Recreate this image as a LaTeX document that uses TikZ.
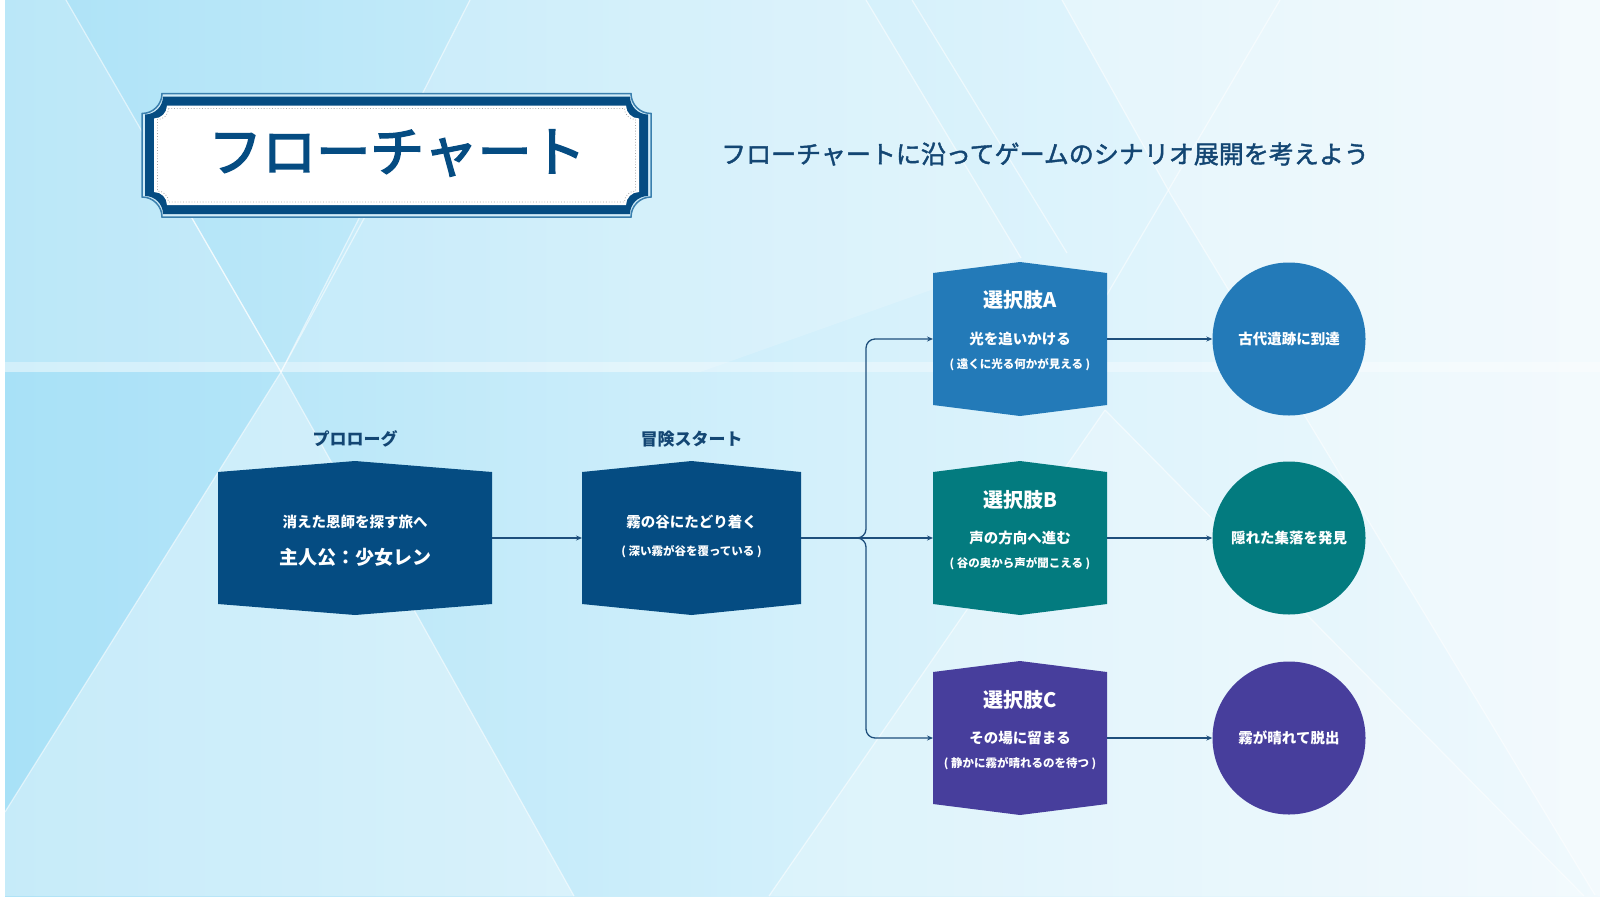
\documentclass[tikz,border=0pt]{standalone}
\usepackage{fontspec}
\setmainfont{Noto Sans CJK JP}
\newfontfamily\jpmed[FakeBold=3]{Noto Sans CJK JP}
\newfontfamily\jpsub[FakeBold=1.6]{Noto Sans CJK JP}
\usetikzlibrary{arrows.meta}
\definecolor{navy}{HTML}{054C82}
\definecolor{colA}{HTML}{237AB8}
\definecolor{colB}{HTML}{037B7F}
\definecolor{colC}{HTML}{473E9C}
\definecolor{txtnavy}{HTML}{134673}
\definecolor{linenavy}{HTML}{1E4F7C}
\definecolor{framemid}{HTML}{3A7FAE}
\definecolor{framelight}{HTML}{D2ECF8}
\definecolor{bgL}{HTML}{ACE2F7}
\definecolor{bgM}{HTML}{D3F0FB}
\definecolor{bgR}{HTML}{F0F9FD}
\newcommand\notchpath[5]{(#1+#5,#2) -- (#3-#5,#2) arc[start angle=180,end angle=90,radius=#5] -- (#3,#4-#5) arc[start angle=270,end angle=180,radius=#5] -- (#1+#5,#4) arc[start angle=0,end angle=-90,radius=#5] -- (#1,#2+#5) arc[start angle=90,end angle=0,radius=#5] -- cycle}
\newcommand\hexbox[6]{%
  \node[minimum width=#4pt, minimum height=#5pt, inner sep=0pt, outer sep=0pt] (#1) at (#2,#3) {};
  \fill[#6] (#1.north west) -- ([yshift=11pt]#1.north) -- (#1.north east) -- (#1.south east) -- ([yshift=-11pt]#1.south) -- (#1.south west) -- cycle;
}
\begin{document}
\begin{tikzpicture}[x=1pt,y=-1pt,
  bgline/.style={white, opacity=0.55, line width=1.2pt},
  conn/.style={draw=linenavy, line width=1.3pt, -{Stealth[length=6pt,width=5pt]}},
  lbl/.style={text=txtnavy, font=\bfseries\fontsize{17}{20}\selectfont, inner sep=0pt},
  wtxt/.style={text=white, font=\bfseries\fontsize{14.5}{17}\selectfont, inner sep=0pt},
  wsmall/.style={text=white, font=\bfseries\fontsize{11.5}{14}\selectfont, inner sep=0pt},
  wtitle/.style={text=white, font=\bfseries\fontsize{20}{24}\selectfont, inner sep=0pt},
  endc/.style={circle, minimum size=153pt, inner sep=0pt, text=white, font=\bfseries\fontsize{14.5}{17}\selectfont}]
\useasboundingbox (0,0) rectangle (1600,900);
% ---------- background ----------
\fill[white] (0,0) rectangle (1600,900);
\shade[left color=bgL, right color=bgR, middle color=bgM] (5,0) rectangle (1600,896);
\fill[white, opacity=0.18] (5,0) -- (66,0) -- (281,372) -- (5,372) -- cycle;
\fill[cyan!40, opacity=0.18] (5,372) -- (281,372) -- (5,812) -- cycle;
\fill[white, opacity=0.32] (5,812) -- (281,372) -- (574,896) -- (5,896) -- cycle;
\fill[white, opacity=0.18] (281,372) -- (470,0) -- (866,0) -- (1021,258) -- (700,372) -- cycle;
\fill[white, opacity=0.22] (1105,410) -- (769,896) -- (1584,896) -- cycle;
\fill[white, opacity=0.25] (1062,0) -- (1600,0) -- (1600,896) -- (1595,895) -- (1171,195) -- cycle;
\fill[white, opacity=0.35] (5,362) rectangle (1600,372);
\draw[bgline] (66,0) -- (281,372);
\draw[bgline] (189,213) -- (281,372);
\draw[bgline] (470,0) -- (281,372);
\draw[bgline] (367,213) -- (281,372);
\draw[bgline] (281,372) -- (5,812);
\draw[bgline] (281,372) -- (574,896);
\draw[bgline] (866,0) -- (1021,258);
\draw[bgline] (912,0) -- (1067,253);
\draw[bgline] (1062,0) -- (1171,195) -- (1595,895);
\draw[bgline] (1280,0) -- (1105,298);
\draw[bgline] (1105,410) -- (769,896);
\draw[bgline] (1105,410) -- (1584,896);
% ---------- title frame ----------
\filldraw[fill=framelight, draw=framemid, line width=1.5pt] \notchpath{142}{93.5}{651}{217}{20};
\fill[navy] \notchpath{145}{96.5}{648}{214}{18};
\fill[white] \notchpath{154}{105.5}{639}{205}{13};
\draw[gray!70, dotted, line width=0.8pt] \notchpath{157.5}{108.5}{635.5}{202}{11};
\node[text=navy, font=\jpmed\fontsize{54}{60}\selectfont, inner sep=0pt] (title) at (397,153) {フローチャート};
\node[text=txtnavy, font=\jpsub\fontsize{25}{29}\selectfont, inner sep=0pt] (subtitle) at (1045,154) {フローチャートに沿ってゲームのシナリオ展開を考えよう};
% ---------- boxes ----------
\hexbox{p}{355}{538}{274}{132}{navy}
\hexbox{s}{691.5}{538}{219}{132}{navy}
\hexbox{A}{1020}{339}{174}{132}{colA}
\hexbox{B}{1020}{538}{174}{132}{colB}
\hexbox{C}{1020}{738}{174}{132}{colC}
\node[lbl] (plbl) at (355,439) {プロローグ};
\node[lbl] (slbl) at (691.5,439) {冒険スタート};
\node[wtxt] (p1) at ([yshift=16pt]p.center) {消えた恩師を探す旅へ};
\node[text=white, font=\bfseries\fontsize{19}{22}\selectfont, inner sep=0pt] (p2) at ([yshift=-19pt]p.center) {主人公：少女レン};
\node[wtxt] (s1) at ([yshift=16pt]s.center) {霧の谷にたどり着く};
\node[wsmall] (s2) at ([yshift=-14pt]s.center) {( 深い霧が谷を覆っている )};
\node[wtitle] (At) at ([yshift=39pt]A.center) {選択肢A};
\node[wtxt] (A1) at (A.center) {光を追いかける};
\node[wsmall] (A2) at ([yshift=-26pt]A.center) {( 遠くに光る何かが見える )};
\node[wtitle] (Bt) at ([yshift=38pt]B.center) {選択肢B};
\node[wtxt] (B1) at (B.center) {声の方向へ進む};
\node[wsmall] (B2) at ([yshift=-26pt]B.center) {( 谷の奥から声が聞こえる )};
\node[wtitle] (Ct) at ([yshift=38pt]C.center) {選択肢C};
\node[wtxt] (C1) at (C.center) {その場に留まる};
\node[wsmall] (C2) at ([yshift=-26pt]C.center) {( 静かに霧が晴れるのを待つ )};
% ---------- end circles ----------
\node[endc, fill=colA] (ea) at (1289,339) {古代遺跡に到達};
\node[endc, fill=colB] (eb) at (1289,538) {隠れた集落を発見};
\node[endc, fill=colC] (ec) at (1289,738) {霧が晴れて脱出};
% ---------- connectors ----------
\coordinate (br) at (866,538);
\draw[conn] (p.east) -- (s.west);
\draw[conn] (s.east) -- (B.west);
\draw[conn, rounded corners=9pt] (s.east) -- (br) |- (A.west);
\draw[conn, rounded corners=9pt] (s.east) -- (br) |- (C.west);
\draw[conn] (A.east) -- (ea.west);
\draw[conn] (B.east) -- (eb.west);
\draw[conn] (C.east) -- (ec.west);
\end{tikzpicture}
\end{document}
